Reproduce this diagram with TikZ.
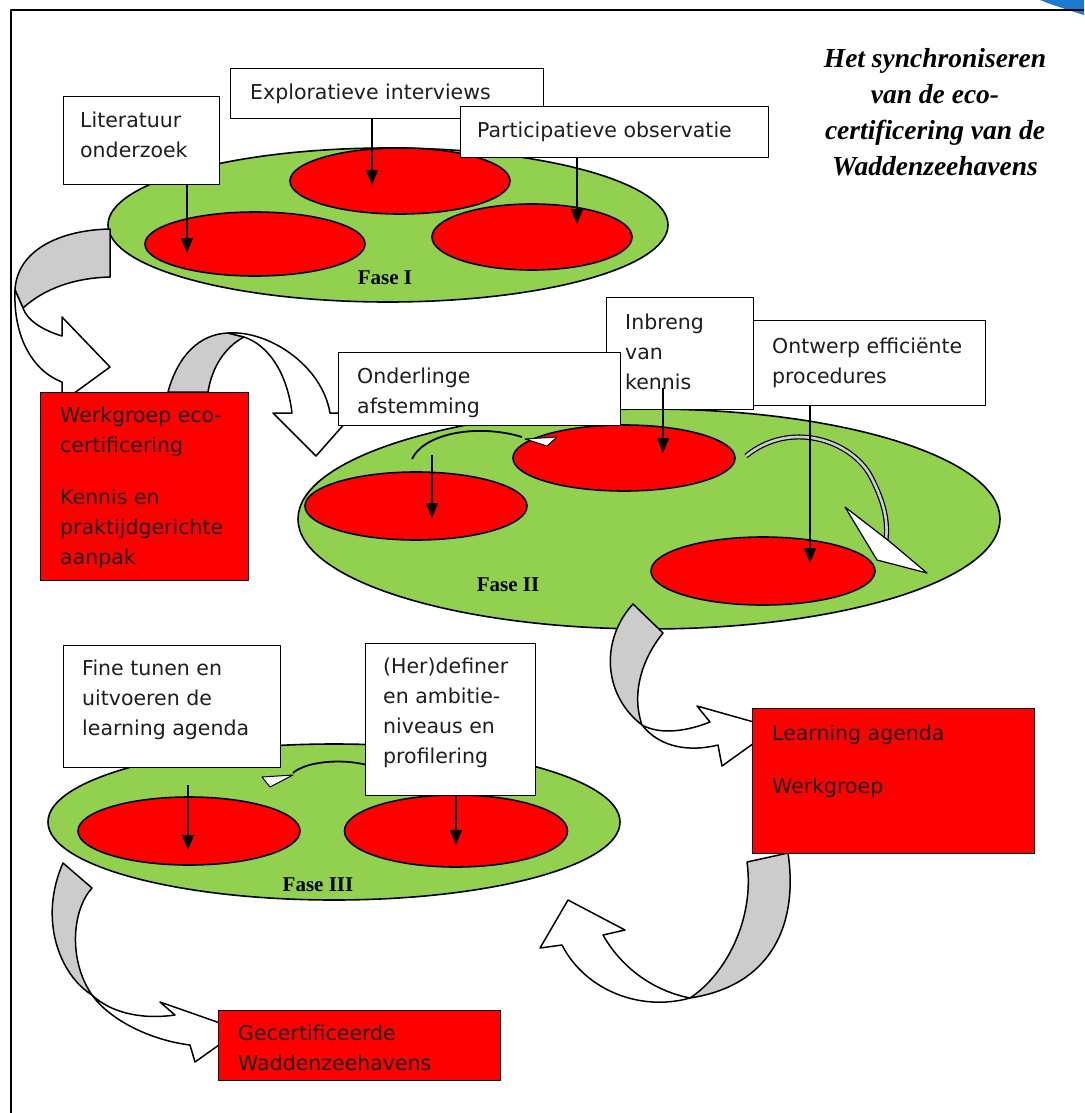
\documentclass[tikz,border=0pt]{standalone}
\usepackage{fontspec}
\setmainfont{DejaVu Sans}
\newfontfamily\titlefont{Liberation Serif}
\usetikzlibrary{shapes.geometric,arrows.meta}
\definecolor{gfill}{HTML}{92D050}
\definecolor{rfill}{HTML}{FF0000}
\definecolor{bandgray}{HTML}{CCCCCC}
\definecolor{txtcol}{HTML}{1E1E1E}
\definecolor{cornerblue}{HTML}{1E7ACC}
\begin{document}
\begin{tikzpicture}[x=1pt,y=-1pt,line join=round,
  ell/.style={ellipse,draw=black,line width=1.6pt,inner sep=0pt},
  greenell/.style={ell,fill=gfill},
  redell/.style={ell,fill=rfill},
  wbox/.style={rectangle,draw=black,line width=1.2pt,fill=white,inner sep=0pt,anchor=north west},
  rbox/.style={wbox,fill=rfill},
  txt/.style={font=\fontsize{20.5}{30}\selectfont,text=txtcol,align=left,anchor=north west,inner sep=0pt},
  band/.style={draw=black,line width=1.5pt},
  varrow/.style={line width=1.6pt,-{Triangle[length=15pt,width=12pt]}},
  fase/.style={font=\titlefont\bfseries\fontsize{21}{24}\selectfont,inner sep=0pt},
  ttl/.style={font=\titlefont\bfseries\itshape\fontsize{27.5}{36}\selectfont,align=center,inner sep=0pt},
]
\useasboundingbox (0,0) rectangle (1084,1113);
% corner decoration and frame
\fill[cornerblue] (1040,0) -- (1084,0) -- (1084,15) .. controls (1068,10) and (1052,5) .. (1040,0) -- cycle;
\draw[line width=2pt] (11,1113) -- (11,10) -- (1084,10);

% title
\node[ttl] (title) at (935,112) {Het synchroniseren\\van de eco-\\certificering van de\\Waddenzeehavens};

% ---------------- Fase I ----------------
\node[greenell,minimum width=560pt,minimum height=154pt] (f1) at (388,225) {};
\node[redell,minimum width=220pt,minimum height=66pt] (f1b) at (400,181) {};
\node[redell,minimum width=220pt,minimum height=64pt] (f1a) at (255,244) {};
\node[redell,minimum width=200pt,minimum height=66pt] (f1c) at (532,237) {};
\node[fase] (fase1) at (385,278) {Fase I};

% ---------------- Fase II ----------------
\node[greenell,minimum width=702pt,minimum height=220pt] (f2) at (649,519) {};
\node[redell,minimum width=222pt,minimum height=68pt] (f2a) at (416,506) {};
\node[redell,minimum width=222pt,minimum height=66pt] (f2b) at (624,458) {};
\node[redell,minimum width=224pt,minimum height=68pt] (f2c) at (763,571) {};
\node[fase] (fase2) at (508,585) {Fase II};

% ---------------- Fase III ----------------
\node[greenell,minimum width=572pt,minimum height=156pt] (f3) at (334,822) {};
\node[redell,minimum width=222pt,minimum height=68pt] (f3a) at (189,831) {};
\node[redell,minimum width=223pt,minimum height=72pt] (f3b) at (456,831) {};
\node[fase] (fase3) at (318,885) {Fase III};

% ---------------- big ribbon arrows ----------------
% Fase I -> Werkgroep
\filldraw[band,fill=bandgray] (110,229) .. controls (60,230) and (17,250) .. (15,290) -- (23,308) .. controls (45,288) and (75,278) .. (110,277) -- cycle;
\filldraw[band,fill=white] (15,290) .. controls (13,340) and (35,372) .. (62,382) -- (62,402) -- (110,367) -- (62,317) -- (62,336) .. controls (42,330) and (27,320) .. (23,308) -- cycle;
% Werkgroep -> Fase II
\filldraw[band,fill=bandgray] (168,392) .. controls (178,355) and (200,334) .. (228,333) -- (244,337) .. controls (225,347) and (212,367) .. (208,392) -- cycle;
\filldraw[band,fill=white] (228,333) .. controls (268,330) and (322,365) .. (330,413) -- (354,413) -- (316,456) -- (273,413) -- (292,413) .. controls (287,372) and (268,345) .. (244,337) -- cycle;
% Fase II -> Learning agenda
\filldraw[band,fill=bandgray] (633,604) -- (663,633) .. controls (645,655) and (630,690) .. (642,725) .. controls (603,695) and (600,640) .. (633,604) -- cycle;
\filldraw[band,fill=white] (642,725) .. controls (662,736) and (690,730) .. (710,722) -- (697,706) -- (775,728) -- (722,766) -- (718,745) .. controls (690,752) and (660,748) .. (642,725) -- cycle;
% Learning agenda -> Fase III
\filldraw[band,fill=bandgray] (747,862) -- (788,853) .. controls (798,920) and (775,985) .. (690,998) .. controls (725,975) and (755,920) .. (747,862) -- cycle;
\filldraw[band,fill=white] (690,998) .. controls (640,1012) and (585,990) .. (562,945) -- (540,948) -- (568,900) -- (625,930) -- (603,935) .. controls (620,965) and (650,990) .. (690,998) -- cycle;
% Fase III -> Gecertificeerde
\filldraw[band,fill=bandgray] (63,863) -- (92,888) .. controls (72,910) and (68,960) .. (92,995) .. controls (60,975) and (38,920) .. (63,863) -- cycle;
\filldraw[band,fill=white] (92,995) .. controls (110,1012) and (140,1020) .. (175,1015) -- (160,1002) -- (240,1030) -- (195,1062) -- (190,1045) .. controls (150,1040) and (110,1020) .. (92,995) -- cycle;

% ---------------- small curved arrows ----------------
\draw[line width=1.8pt] (412,459) .. controls (425,432) and (480,424) .. (522,437);
\filldraw[black,line width=1pt,fill=white] (525,439) -- (557,437) -- (547,446) -- cycle;
\draw[line width=5pt] (746,456) .. controls (790,420) and (850,440) .. (870,475) .. controls (885,503) and (888,522) .. (886,540);
\draw[line width=2.6pt,bandgray] (746,456) .. controls (790,420) and (850,440) .. (870,475) .. controls (885,503) and (888,522) .. (886,540);
\filldraw[black,line width=1.2pt,fill=white] (845,507) -- (889,541) -- (927,573) -- (877,560) -- cycle;
\draw[line width=1.8pt] (367,765) .. controls (340,758) and (305,762) .. (293,773);
\filldraw[black,line width=1pt,fill=white] (262,777) -- (293,775) -- (270,787) -- cycle;

% ---------------- boxes ----------------
\node[wbox,minimum width=156pt,minimum height=88pt] (litbox) at (63,96) {};
\node[txt] (littxt) at (80,112) {Literatuur\\onderzoek};
\node[wbox,minimum width=313pt,minimum height=50pt] (expbox) at (230,68) {};
\node[txt] (exptxt) at (250,84) {Exploratieve interviews};
\node[wbox,minimum width=308pt,minimum height=51pt] (partbox) at (460,106) {};
\node[txt] (parttxt) at (477,122) {Participatieve observatie};

\node[rbox,line width=0.8pt,minimum width=208pt,minimum height=188pt] (werkbox) at (40,392) {};
\node[txt] (werktxt1) at (60,407) {Werkgroep eco-\\certificering};
\node[txt] (werktxt2) at (60,489) {Kennis en\\praktijdgerichte\\aanpak};

\node[wbox,minimum width=245pt,minimum height=85pt] (ontbox) at (740,320) {};
\node[txt] (onttxt) at (772,338) {Ontwerp efficiënte\\procedures};
\node[wbox,minimum width=147pt,minimum height=112pt] (inbrbox) at (606,297) {};
\node[txt] (inbrtxt) at (625,314) {Inbreng\\van\\kennis};
\node[wbox,minimum width=282pt,minimum height=73pt] (ondbox) at (338,352) {};
\node[txt] (ondtxt) at (357,368) {Onderlinge\\afstemming};

\node[wbox,minimum width=217pt,minimum height=122pt] (finebox) at (63,645) {};
\node[txt] (finetxt) at (82,660) {Fine tunen en\\uitvoeren de\\learning agenda};
\node[wbox,minimum width=170pt,minimum height=152pt] (herbox) at (365,643) {};
\node[txt] (hertxt) at (383,658) {(Her)definer\\en ambitie-\\niveaus en\\profilering};

\node[rbox,line width=0.8pt,minimum width=282pt,minimum height=145pt] (learnbox) at (752,708) {};
\node[txt] (learntxt1) at (772,725) {Learning agenda};
\node[txt] (learntxt2) at (772,778) {Werkgroep};

\node[rbox,line width=0.8pt,minimum width=282pt,minimum height=70pt] (gecbox) at (218,1010) {};
\node[txt] (gectxt) at (238,1025) {Gecertificeerde\\Waddenzeehavens};

% ---------------- straight arrows ----------------
\coordinate (t1) at (187,253);
\coordinate (t2) at (372,185);
\coordinate (t3) at (577,224);
\coordinate (t4) at (432,518);
\coordinate (t5) at (663,453);
\coordinate (t6) at (810,563);
\coordinate (t7) at (188,850);
\coordinate (t8) at (456,845);
\coordinate (s4) at (432,455);
\coordinate (s5) at (663,388);
\coordinate (s7) at (188,785);
\draw[varrow] (litbox.south -| t1) -- (t1);
\draw[varrow] (expbox.south -| t2) -- (t2);
\draw[varrow] (partbox.south -| t3) -- (t3);
\draw[varrow] (s4) -- (t4);
\draw[varrow] (s5) -- (t5);
\draw[varrow] (ontbox.south -| t6) -- (t6);
\draw[varrow] (s7) -- (t7);
\draw[varrow] (herbox.south -| t8) -- (t8);
\end{tikzpicture}
\end{document}
